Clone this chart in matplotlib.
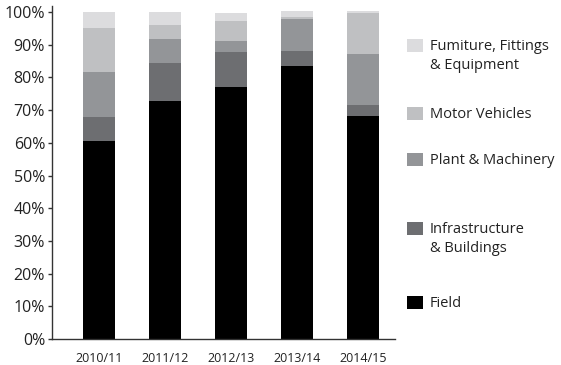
import numpy as np
import matplotlib.pyplot as plt
from matplotlib.patches import Rectangle

plt.rcParams["font.family"] = ["Open Sans", "DejaVu Sans"]

years = ["2010/11", "2011/12", "2012/13", "2013/14", "2014/15"]
field = [60.6, 72.8, 77.1, 83.5, 68.2]
infra = [7.3, 11.6, 10.7, 4.6, 3.4]
plant = [13.8, 7.3, 3.3, 9.8, 15.6]
motor = [13.4, 4.3, 6.1, 0.6, 12.5]
furniture = [4.9, 4.0, 2.5, 1.8, 0.6]

series = [field, infra, plant, motor, furniture]
colors = ["#000000", "#6d6e71", "#939598", "#bfc0c2", "#dcdcde"]

fig = plt.figure(figsize=(5.61, 3.65), dpi=100)
W, H = 561, 365
ax = fig.add_axes([52 / W, 1 - 339 / H, (395 - 52) / W, (339 - 5.5) / H])

x = np.arange(len(years))
bottom = np.zeros(len(years))
for vals, c in zip(series, colors):
    ax.bar(x, vals, width=0.485, bottom=bottom, color=c, linewidth=0)
    bottom += np.array(vals)

ax.set_xlim(-0.71, 4.48)
ax.set_ylim(0, 102)
ax.set_yticks(range(0, 101, 10))
ax.set_yticklabels([f"{v}%" for v in range(0, 101, 10)], fontsize=11.5, color="#222222")
ax.set_xticks(x)
ax.set_xticklabels(years, fontsize=9, color="#222222")
ax.tick_params(axis="x", length=0, pad=9)
ax.tick_params(axis="y", length=3, width=1, color="#333333", pad=2)
for s in ["top", "right"]:
    ax.spines[s].set_visible(False)
for s in ["left", "bottom"]:
    ax.spines[s].set_color("#333333")
    ax.spines[s].set_linewidth(1)

# legend drawn by hand to keep the uneven spacing
legend = [
    ("Fumiture, Fittings\n& Equipment", colors[4], 45),
    ("Motor Vehicles", colors[3], 113),
    ("Plant & Machinery", colors[2], 159),
    ("Infrastructure\n& Buildings", colors[1], 228),
    ("Field", colors[0], 302),
]
for label, c, yc in legend:
    fig.patches.append(Rectangle((407 / W, 1 - (yc + 7) / H), 16 / W, 13 / H,
                                 transform=fig.transFigure, color=c, linewidth=0))
    fig.text(430 / W, 1 - (yc - 6) / H, label, fontsize=10.5, va="top", ha="left",
             color="#222222", linespacing=1.4)

fig.savefig("out.png", dpi=100)
